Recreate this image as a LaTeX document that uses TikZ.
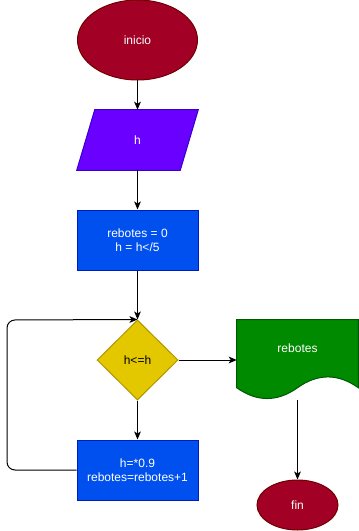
\documentclass[tikz,border=0pt]{standalone}
\usepackage{fontspec}
\setmainfont{Liberation Sans}
\usetikzlibrary{shapes.geometric, arrows.meta, calc}

\definecolor{termfill}{HTML}{A20025}
\definecolor{termline}{HTML}{6F0000}
\definecolor{iofill}{HTML}{6A00FF}
\definecolor{ioline}{HTML}{3700CC}
\definecolor{procfill}{HTML}{0050EF}
\definecolor{procline}{HTML}{001DBC}
\definecolor{decfill}{HTML}{E3C800}
\definecolor{decline}{HTML}{B09500}
\definecolor{docfill}{HTML}{008A00}
\definecolor{docline}{HTML}{005700}

\begin{document}
\begin{tikzpicture}[x=0.75pt, y=-0.75pt,
    font=\fontsize{9}{10.9}\selectfont,
    every node/.style={align=center, inner sep=0pt},
    terminal/.style={ellipse, draw=termline, fill=termfill, text=white, line width=0.75pt},
    process/.style={rectangle, draw=procline, fill=procfill, text=white, line width=0.75pt,
        minimum width=90.75pt, minimum height=45pt},
    decision/.style={diamond, draw=decline, fill=decfill, text=black, line width=0.75pt,
        minimum width=60.75pt, minimum height=60pt},
    flow/.style={-{Stealth[length=6pt, width=5pt, inset=1.5pt]}, line width=0.75pt}]
    \useasboundingbox (0,0) rectangle (358,531);

    % Nodes
    \node[terminal, minimum width=90pt, minimum height=60pt] (inicio) at (137.5,40) {inicio};
    \node[minimum width=90.75pt, minimum height=45pt] (input) at (137.5,140) {};
    \draw[draw=ioline, fill=iofill, line width=0.75pt]
        (input.south west) -- ($(input.north west)+(18,0)$) -- (input.north east)
        -- ($(input.south east)+(-18,0)$) -- cycle;
    \node[text=white] (inputlabel) at (input) {h};
    \node[process] (init) at (137.5,240) {rebotes = 0\\h = h</5};
    \node[decision] (cond) at (137.5,360) {h<=h};
    \node[process] (update) at (137.5,470) {h=*0.9\\rebotes=rebotes+1};
    \node[minimum width=90.75pt, minimum height=60pt] (out) at (297.5,360) {};
    \draw[draw=docline, fill=docfill, line width=0.75pt]
        (out.north west) -- (out.north east) -- ($(out.north east)+(0,68)$)
        .. controls +(-20.2,-14.4) and +(20.2,-14.4) .. ($(out.north)+(0,68)$)
        .. controls +(-20.2,14.4) and +(20.2,14.4) .. ($(out.north west)+(0,68)$) -- cycle;
    \node[text=white] (outlabel) at (297.5,348) {rebotes};
    \node[terminal, minimum width=60.75pt, minimum height=37.5pt] (fin) at (297.5,505) {fin};
    \coordinate (loop) at (7,320);

    % Arrows
    \draw[flow] (inicio) -- (input);
    \draw[flow] (input) -- (init);
    \draw[flow] (init) -- (cond);
    \draw[flow] (cond) -- (update);
    \draw[flow, rounded corners=6pt] (update.west) -| (loop) -- (cond.north);
    \draw[flow] (cond.east) -- (out.west);
    \draw[flow] (out.south) -- (fin);
\end{tikzpicture}
\end{document}
